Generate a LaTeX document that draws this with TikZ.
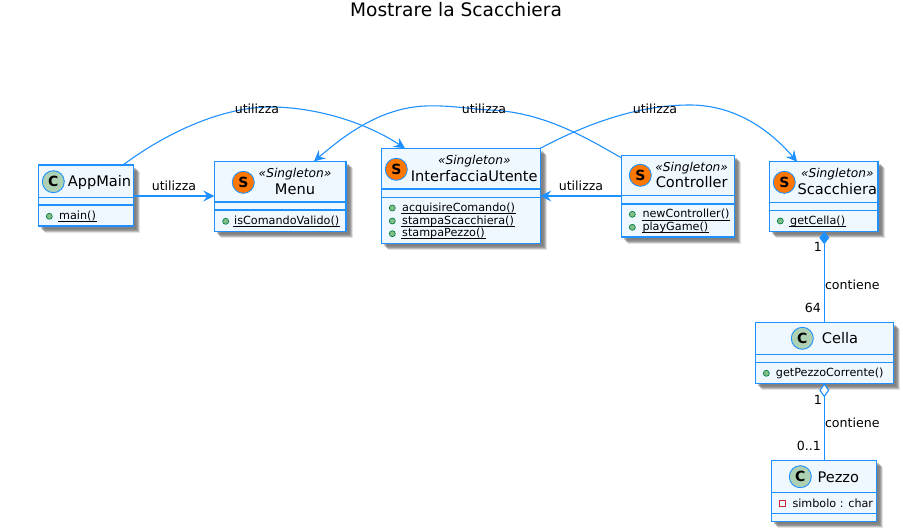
\documentclass[tikz,border=0pt]{standalone}
\usepackage{fontspec}
\setmainfont{DejaVu Sans}
\usetikzlibrary{arrows.meta}
\definecolor{umlblue}{HTML}{1E90FF}
\definecolor{umlfill}{HTML}{F0F8FF}
\definecolor{spotc}{HTML}{ADD1B2}
\definecolor{spots}{HTML}{FF7700}
\definecolor{dotfill}{HTML}{84BE84}
\definecolor{dotline}{HTML}{038048}
\definecolor{privline}{HTML}{C82930}
\newsavebox{\ulbox}
\newcommand{\memberul}[1]{\sbox{\ulbox}{#1}\rlap{\smash{\hspace{-1pt}\raisebox{-2.4pt}{\rule{\dimexpr\wd\ulbox+2pt\relax}{.7pt}}}}\usebox{\ulbox}}
\tikzset{
  classbox/.style={draw=umlblue,fill=umlfill,line width=1.5pt,inner sep=0pt,outer sep=0pt,rectangle},
  sepline/.style={draw=umlblue,line width=1.3pt},
  classname/.style={inner sep=0pt,font=\fontsize{14.6}{15}\selectfont},
  stereo/.style={inner sep=0pt,font=\fontsize{12.2}{13}\selectfont\itshape},
  memberlabel/.style={inner sep=0pt,anchor=west,font=\fontsize{11.2}{12}\selectfont},
  spot/.style={circle,draw=umlblue,line width=.9pt,minimum size=22pt,inner sep=0pt,font=\fontsize{14}{14}\selectfont\bfseries},
  pubdot/.style={circle,draw=dotline,fill=dotfill,line width=.7pt,minimum size=6pt,inner sep=0pt},
  privdot/.style={rectangle,draw=privline,line width=.9pt,minimum size=6pt,inner sep=0pt},
  edgelabel/.style={inner sep=0pt,font=\fontsize{12.6}{13}\selectfont},
  conn/.style={draw=umlblue,line width=1.1pt},
  arrowconn/.style={conn,-{Stealth[length=11pt,width=11pt,inset=4pt]}},
}
\newcommand{\umlbox}[7]{%
  \pgfmathsetmacro{\bw}{#4-#2}\pgfmathsetmacro{\bh}{#5-#3}%
  \pgfmathsetmacro{\bx}{(#2+#4)/2}\pgfmathsetmacro{\by}{(#3+#5)/2}%
  \foreach \o/\op in {2.5/.4,3.5/.4,4.5/.45,5.5/.35,6.5/.2}{%
    \fill[black!55,opacity=\op] (#2+\o,#3+\o) rectangle (#4+\o,#5+\o);}
  \node[classbox,minimum width=\bw pt,minimum height=\bh pt] (#1) at (\bx,\by) {};
  \draw[sepline] (#1.west |- 0,#6) -- (#1.east |- 0,#6);
  \draw[sepline] (#1.west |- 0,#7) -- (#1.east |- 0,#7);
}
\begin{document}
\begin{tikzpicture}[x=1pt,y=-1pt]
\useasboundingbox (0,0) rectangle (903,531);
\node[inner sep=0pt,font=\fontsize{18.6}{19}\selectfont] (title) at (456,10) {Mostrare la Scacchiera};

\umlbox{AppMain}{38.3}{165}{133.3}{226}{197.3}{205}
\umlbox{Menu}{214.3}{161.3}{346}{231.3}{202}{210}
\umlbox{Interfaccia}{381.7}{148.3}{540.3}{243.3}{189}{197.3}
\umlbox{Controller}{621.7}{155.7}{734.3}{237}{195.7}{204}
\umlbox{Scacchiera}{769.3}{161.7}{878}{231.3}{202.3}{210.3}
\umlbox{Cella}{755.3}{322.3}{893.3}{383.3}{354.3}{362.3}
\umlbox{Pezzo}{771.7}{460.7}{876.3}{521.3}{492.7}{513.3}

% AppMain
\node[spot,fill=spotc] (sA) at (53.3,181.7) {C};
\node[classname] (nA) at (99.5,182) {AppMain};
\node[pubdot] (dA) at (49.3,216.3) {};
\node[memberlabel] (mA) at (59,216) {\memberul{main()}};
% Menu
\node[spot,fill=spots] (sM) at (243.3,182.3) {S};
\node[stereo] (tM) at (295,174.3) {«Singleton»};
\node[classname] (nM) at (295,189.3) {Menu};
\node[pubdot] (dM) at (225.7,221.3) {};
\node[memberlabel] (mM) at (234,221) {\memberul{isComandoValido()}};
% InterfacciaUtente
\node[spot,fill=spots] (sI) at (396.3,169.3) {S};
\node[stereo] (tI) at (474.3,160.7) {«Singleton»};
\node[classname] (nI) at (474.3,176) {InterfacciaUtente};
\node[pubdot] (dI1) at (392.3,208) {};
\node[pubdot] (dI2) at (392.3,221) {};
\node[pubdot] (dI3) at (392.3,233.7) {};
\node[memberlabel] (mI1) at (402,208) {\memberul{acquisireComando()}};
\node[memberlabel] (mI2) at (402,221) {\memberul{stampaScacchiera()}};
\node[memberlabel] (mI3) at (402,233.7) {\memberul{stampaPezzo()}};
% Controller
\node[spot,fill=spots] (sC) at (640.3,175.3) {S};
\node[stereo] (tC) at (691.7,167.7) {«Singleton»};
\node[classname] (nC) at (691.7,181.7) {Controller};
\node[pubdot] (dC1) at (632.3,214.3) {};
\node[pubdot] (dC2) at (632.3,227.3) {};
\node[memberlabel] (mC1) at (642.3,214.3) {\memberul{newController()}};
\node[memberlabel] (mC2) at (642.3,227.3) {\memberul{playGame()}};
% Scacchiera
\node[spot,fill=spots] (sS) at (784.3,182.3) {S};
\node[stereo] (tS) at (837.3,173.7) {«Singleton»};
\node[classname] (nS) at (837.3,189) {Scacchiera};
\node[pubdot] (dS) at (780.3,221) {};
\node[memberlabel] (mS) at (790,221) {\memberul{getCella()}};
% Cella
\node[spot,fill=spotc] (sE) at (802.3,338.3) {C};
\node[classname] (nE) at (840,338.5) {Cella};
\node[pubdot] (dE) at (766.3,373.3) {};
\node[memberlabel] (mE) at (775.7,373.3) {getPezzoCorrente()};
% Pezzo
\node[spot,fill=spotc] (sP) at (800.3,476.7) {C};
\node[classname] (nP) at (838.3,477) {Pezzo};
\node[privdot] (dP) at (782.3,503.3) {};
\node[memberlabel] (mP) at (792.3,503.3) {simbolo : char};

% connectors
\coordinate (a1) at ([xshift=-10.3pt]AppMain.north east);
\coordinate (a2) at ([xshift=23.3pt]Interfaccia.north west);
\draw[arrowconn] (a1) .. controls (170,130) and (225,107) .. (270,107) .. controls (315,107) and (365,122) .. (a2);
\coordinate (b1) at (Controller.west |- 0,158);
\coordinate (b2) at (Menu.north -| 314,0);
\draw[arrowconn] (b1) .. controls (590,140) and (545,112) .. (490,110) .. controls (470,109) and (450,105) .. (425,106) .. controls (380,108) and (345,135) .. (b2);
\coordinate (c1) at (Interfaccia.north east);
\coordinate (c2) at (Scacchiera.north -| 797,0);
\draw[arrowconn] (c1) .. controls (590,122) and (640,105) .. (690,105) .. controls (735,105) and (770,130) .. (c2);
\coordinate (d1) at (AppMain.east |- 0,196);
\coordinate (d2) at (Menu.west |- 0,196);
\draw[arrowconn] (d1) -- (d2);
\coordinate (e1) at (Controller.west |- 0,196);
\coordinate (e2) at (Interfaccia.east |- 0,196);
\draw[arrowconn] (e1) -- (e2);
\draw[conn,{Diamond[length=13pt,width=10pt,fill=umlblue]}-] (Scacchiera.south -| Cella.north) -- (Cella.north);
\draw[conn,{Diamond[length=14pt,width=10pt,fill=white]}-] (Cella.south) -- (Pezzo.north -| Cella.south);

% labels
\node[edgelabel] (l1) at (257,108.5) {utilizza};
\node[edgelabel] (l2) at (484,108.5) {utilizza};
\node[edgelabel] (l3) at (655,108.5) {utilizza};
\node[edgelabel] (l4) at (174,186) {utilizza};
\node[edgelabel] (l5) at (581,186) {utilizza};
\node[edgelabel,anchor=east] (l6) at (822,247) {1};
\node[edgelabel] (l7) at (852.3,284.7) {contiene};
\node[edgelabel,anchor=east] (l8) at (821,307.7) {64};
\node[edgelabel,anchor=east] (l9) at (822,399.7) {1};
\node[edgelabel] (l10) at (852.3,422.7) {contiene};
\node[edgelabel,anchor=east] (l11) at (821,445.7) {0..1};
\end{tikzpicture}
\end{document}
